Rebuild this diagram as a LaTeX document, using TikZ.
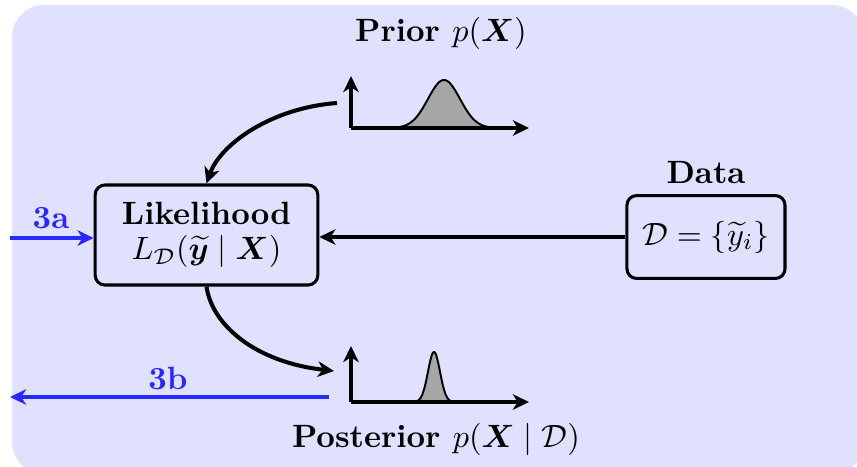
\documentclass[tikz,border=0pt]{standalone}
\usepackage{amsmath,amssymb,bm}
\usetikzlibrary{arrows.meta}
\definecolor{bgblue}{RGB}{224,224,255}
\definecolor{arrblue}{RGB}{40,40,255}
\definecolor{curvegray}{RGB}{166,166,166}
\begin{document}
\begin{tikzpicture}[x=0.31pt,y=-0.31pt,
  tip/.style={-{Stealth[length=5pt,width=4.8pt,inset=1.5pt]}},
  box/.style={draw=black,line width=0.95pt,rounded corners=3pt,align=center,inner sep=0pt},
  lbl/.style={font=\bfseries,inner sep=0pt},
  bluelbl/.style={font=\bfseries,text=arrblue,inner sep=0pt},
  bigarrow/.style={tip,line width=1.25pt},
  bluearrow/.style={tip,line width=1.3pt,draw=arrblue},
  axis/.style={tip,line width=1pt},
  gauss/.style={draw=black,fill=curvegray,line width=0.6pt}]
\useasboundingbox (0,0) rectangle (857,467);
\fill[bgblue,rounded corners=10pt] (12,5) rectangle (864,474);

% labels
\node[lbl] (prior) at (441,33) {Prior $p(\boldsymbol{X})$};
\node[lbl] (post) at (436,439) {Posterior $p(\boldsymbol{X}\mid\mathcal{D})$};
\node[lbl] (datal) at (706,173) {Data};
\node[bluelbl] (l3a) at (51,218) {3a};
\node[bluelbl] (l3b) at (168,378) {3b};

% boxes
\node[box,minimum width=69pt,minimum height=31pt] (like) at (206.5,235)
  {\textbf{Likelihood}\\[-1pt] $L_{\mathcal{D}}(\widetilde{\boldsymbol{y}}\mid\boldsymbol{X})$};
\node[box,minimum width=49pt,minimum height=25.7pt] (data) at (706,237)
  {$\mathcal{D}=\{\widetilde{y}_i\}$};

% prior plot
\coordinate (po) at (351,128);
\coordinate (py) at (351,76);
\coordinate (px) at (529,128);
\filldraw[gauss] plot[domain=390:498,samples=80,smooth] (\x,{128-48*exp(-((\x-444)/16)^2/2)}) -- cycle;
\draw[axis] (po) -- (py);
\draw[axis] (po) -- (px);

% posterior plot
\coordinate (qo) at (351,402);
\coordinate (qy) at (351,346);
\coordinate (qx) at (529,402);
\filldraw[gauss] plot[domain=415:455,samples=80,smooth] (\x,{402-50*exp(-((\x-434)/6)^2/2)}) -- cycle;
\draw[axis] (qo) -- (qy);
\draw[axis] (qo) -- (qx);

% connectors
\coordinate (pstart) at (337,103);
\draw[bigarrow] (pstart) .. controls (270,108) and (220,145) .. (like.north);
\coordinate (qend) at (334,371);
\draw[bigarrow] (like.south) .. controls (212,325) and (255,362) .. (qend);
\draw[bigarrow] (data.west) -- (like.east |- data.west);

\coordinate (a3in) at (10,238);
\draw[bluearrow] (a3in) -- (like.west |- a3in);
\coordinate (b3s) at (329,397);
\coordinate (b3e) at (10,397);
\draw[bluearrow] (b3s) -- (b3e);
\end{tikzpicture}
\end{document}
